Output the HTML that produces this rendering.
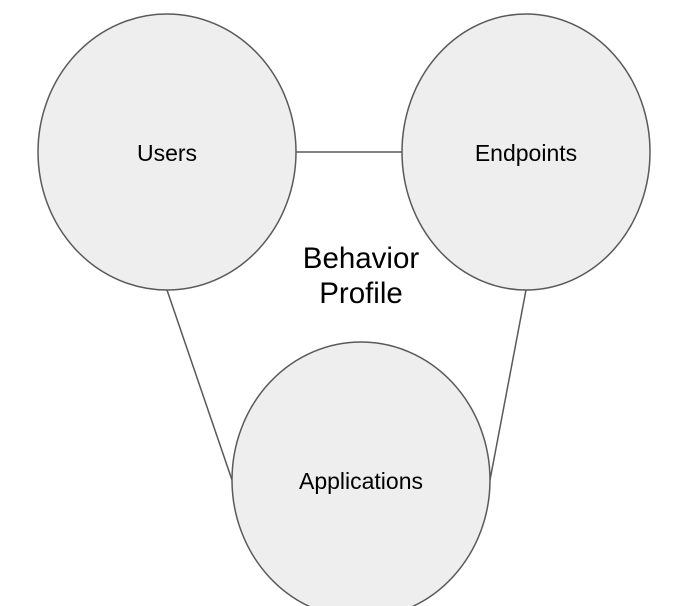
<!DOCTYPE html>
<html><head><style>body{margin:0;background:#fff}svg{display:block}</style></head><body>
<svg width="698" height="606" xmlns="http://www.w3.org/2000/svg" font-family="Liberation Sans, Arial, sans-serif">
<g stroke="#595959" stroke-width="1.5">
<line x1="296" y1="152" x2="402" y2="152"/>
<line x1="167" y1="290" x2="232" y2="480"/>
<line x1="526" y1="290" x2="490" y2="480"/>
<g fill="#eeeeee">
<ellipse cx="167" cy="152" rx="129" ry="138"/>
<ellipse cx="526" cy="152" rx="124" ry="138"/>
<ellipse cx="361" cy="480" rx="129" ry="138"/>
</g>
</g>
<g fill="#000" text-anchor="middle" font-size="23">
<text x="167" y="161">Users</text>
<text x="526" y="161">Endpoints</text>
<text x="361" y="489">Applications</text>
<text x="361" y="268" font-size="29.5">Behavior</text>
<text x="361" y="303" font-size="29.5">Profile</text>
</g>
</svg>
</body></html>
